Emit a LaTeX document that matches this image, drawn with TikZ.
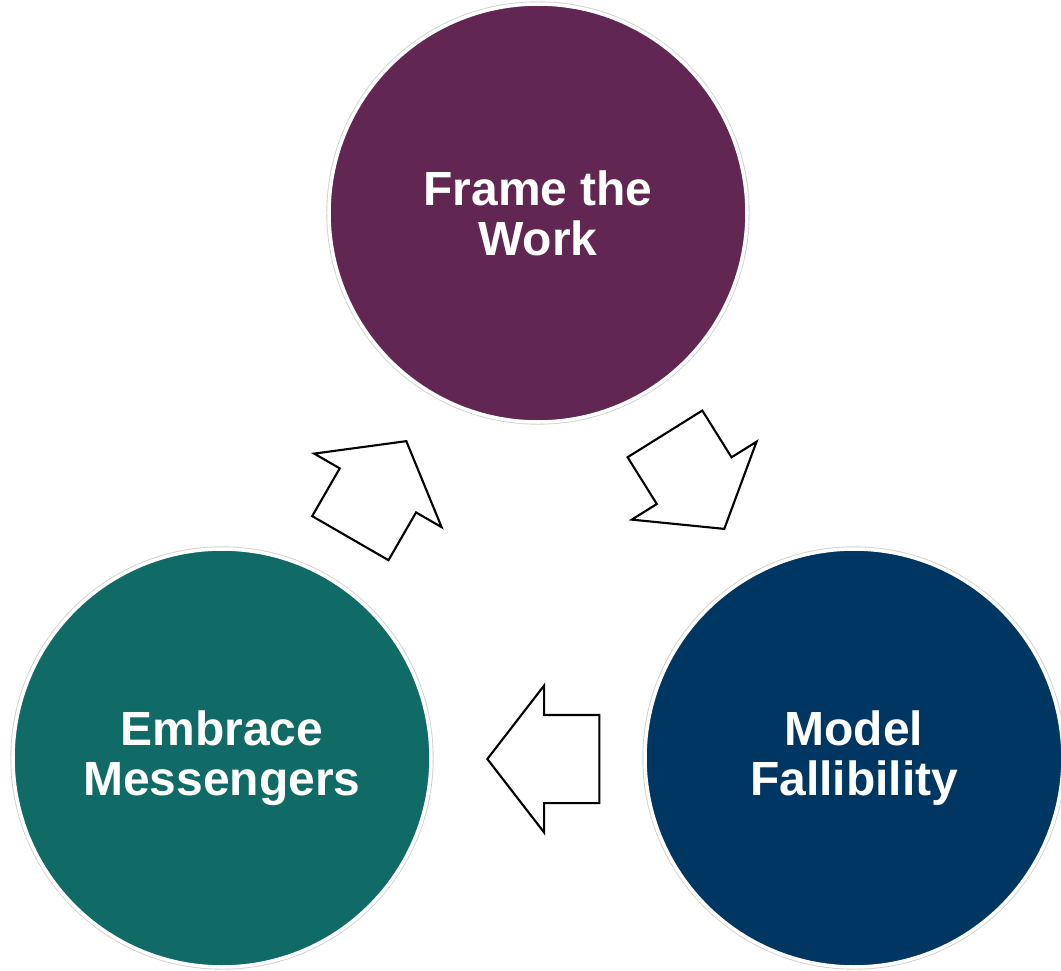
\documentclass[tikz,border=0pt]{standalone}
\usepackage{fontspec}
\setmainfont{Liberation Sans}
\usetikzlibrary{shapes.arrows}

\definecolor{framepurple}{RGB}{97,38,81}
\definecolor{embraceteal}{RGB}{16,107,102}
\definecolor{modelnavy}{RGB}{0,54,98}

\begin{document}
\begin{tikzpicture}[node distance=10.9cm]

  % Definitions
  \tikzstyle{stage} = [circle, minimum size=8.36cm, draw=white, line width=2pt,
                       preaction={draw=black!18, line width=3pt},
                       text=white, align=center,
                       font=\fontsize{27.3}{28.5}\selectfont\bfseries]
  \tikzstyle{cyclearrow} = [single arrow, draw=black, fill=white, line width=1.2pt,
                            minimum height=2.24cm, minimum width=2.9cm,
                            inner xsep=0pt, inner ysep=0.86cm,
                            single arrow head extend=0.59cm, single arrow tip angle=104.6,
                            anchor=tip]

  \useasboundingbox (-10.76,4.26) rectangle (10.46,-15.14);

  \node (work) [stage, fill=framepurple] {Frame the\\Work};
  \node (messengers) [stage, fill=embraceteal, below of=work, xshift=-6.32cm] {Embrace\\Messengers};
  \node (fallibility) [stage, fill=modelnavy, below of=work, xshift=6.32cm] {Model\\Fallibility};

  \node (toModel) [cyclearrow, rotate=-58] at (3.74,-6.34) {};
  \node (toEmbrace) [cyclearrow, rotate=180] at (-1.04,-10.92) {};
  \node (toFrame) [cyclearrow, rotate=60] at (-2.62,-4.54) {};

\end{tikzpicture}
\end{document}
